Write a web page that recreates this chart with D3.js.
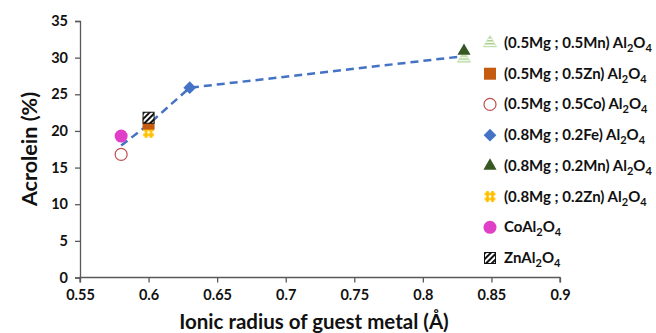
<!DOCTYPE html>
<html>
<head>
<meta charset="utf-8">
<script src="https://cdn.jsdelivr.net/npm/d3@7/dist/d3.min.js"></script>
<style>
  body { margin: 0; background: #fff; }
  text { font-family: Lato, "Open Sans", sans-serif; font-weight: bold; }
</style>
</head>
<body>
<div id="chart"></div>
<script>
// data
const xTicks = [0.55, 0.6, 0.65, 0.7, 0.75, 0.8, 0.85, 0.9]
const yTicks = [0, 5, 10, 15, 20, 25, 30, 35]

// [ionic radius, acrolein %]
const mg05mn05 = [0.83, 29.9]
const mg05zn05 = [0.60, 21.0]
const mg05co05 = [0.58, 16.8]
const mg08fe02 = [0.63, 25.9]
const mg08mn02 = [0.83, 30.9]
const mg08zn02 = [0.60, 19.8]
const coAl = [0.58, 19.3]
const znAl = [0.60, 21.8]

// dashed trend through the averages
const trendX = [0.58, 0.60, 0.63, 0.83]
const trendY = [18.0, 20.9, 25.9, 30.2]

const series = [
  { pre: '(0.5Mg ; 0.5Mn) Al', pt: mg05mn05, shape: 'triStripe' },
  { pre: '(0.5Mg ; 0.5Zn) Al', pt: mg05zn05, shape: 'square' },
  { pre: '(0.5Mg ; 0.5Co) Al', pt: mg05co05, shape: 'openCircle' },
  { pre: '(0.8Mg ; 0.2Fe) Al', pt: mg08fe02, shape: 'diamond' },
  { pre: '(0.8Mg ; 0.2Mn) Al', pt: mg08mn02, shape: 'triangle' },
  { pre: '(0.8Mg ; 0.2Zn) Al', pt: mg08zn02, shape: 'yellowSq' },
  { pre: 'CoAl', pt: coAl, shape: 'circle' },
  { pre: 'ZnAl', pt: znAl, shape: 'hatch' }
]

const width = 656, height = 333
const svg = d3.select('#chart').append('svg')
  .attr('width', width).attr('height', height)

const defs = svg.append('defs')
// diagonal black hatch
const hp = defs.append('pattern').attr('id', 'hatch')
  .attr('patternUnits', 'userSpaceOnUse').attr('width', 4).attr('height', 4)
  .attr('patternTransform', 'rotate(45)')
hp.append('rect').attr('width', 4).attr('height', 4).attr('fill', '#fff')
hp.append('rect').attr('width', 2).attr('height', 4).attr('fill', '#111')
// light green horizontal stripes
const tp = defs.append('pattern').attr('id', 'tstripe')
  .attr('patternUnits', 'userSpaceOnUse').attr('width', 4).attr('height', 3)
tp.append('rect').attr('width', 4).attr('height', 3).attr('fill', '#fff')
tp.append('rect').attr('width', 4).attr('height', 1.5).attr('fill', '#a9d18e')
// yellow dotted pattern
const yp = defs.append('pattern').attr('id', 'ydots')
  .attr('patternUnits', 'userSpaceOnUse').attr('width', 5).attr('height', 5)
yp.append('rect').attr('width', 5).attr('height', 5).attr('fill', '#ffc000')
;[[0, 0], [5, 5], [5, 0], [0, 5]].forEach(c => {
  yp.append('circle').attr('cx', c[0]).attr('cy', c[1]).attr('r', 1.4).attr('fill', '#fff')
})

const x = d3.scaleLinear().domain([0.55, 0.9]).range([80, 560])
const y = d3.scaleLinear().domain([0, 35]).range([277.5, 21])

// axes
const xAxis = svg.append('g')
  .attr('transform', `translate(0,${y(0)})`)
  .call(d3.axisBottom(x).tickValues(xTicks).tickSize(5).tickPadding(7)
    .tickFormat(d => d3.format('')(+d.toFixed(2))))
const yAxis = svg.append('g')
  .attr('transform', `translate(${x(0.55)},0)`)
  .call(d3.axisLeft(y).tickValues(yTicks).tickSize(5).tickPadding(7))

;[xAxis, yAxis].forEach(a => {
  a.select('.domain').attr('stroke', '#595959').attr('stroke-width', 1.3)
  a.selectAll('.tick line').attr('stroke', '#595959').attr('stroke-width', 1.3)
  a.selectAll('.tick text').attr('fill', '#111').style('font-size', '14.5px')
})
xAxis.select('.domain').attr('d', `M${x(0.55)},5V0H${x(0.9)}V5`)

// axis titles
svg.append('text')
  .attr('x', 314).attr('y', 329)
  .attr('text-anchor', 'middle')
  .style('font-size', '20.5px').attr('fill', '#111')
  .text('Ionic radius of guest metal (Å)')

svg.append('text')
  .attr('transform', 'translate(37,149) rotate(-90)')
  .attr('text-anchor', 'middle')
  .style('font-size', '21.5px').attr('fill', '#111')
  .text('Acrolein (%)')

// trend line
const trend = trendX.map((v, i) => [v, trendY[i]])
svg.append('path')
  .datum(trend)
  .attr('d', d3.line().x(d => x(d[0])).y(d => y(d[1])))
  .attr('fill', 'none')
  .attr('stroke', '#4472c4')
  .attr('stroke-width', 2.5)
  .attr('stroke-dasharray', '8,5')

function drawMarker(g, shape) {
  if (shape === 'triStripe') {
    g.append('path').attr('d', d3.symbol(d3.symbolTriangle, 75)())
      .attr('fill', 'url(#tstripe)').attr('stroke', '#c5e0b4').attr('stroke-width', 0.8)
  } else if (shape === 'triangle') {
    g.append('path').attr('d', d3.symbol(d3.symbolTriangle, 75)())
      .attr('fill', '#385723')
  } else if (shape === 'square') {
    g.append('rect').attr('x', -6).attr('y', -6).attr('width', 12).attr('height', 12)
      .attr('fill', '#c55a11')
  } else if (shape === 'openCircle') {
    g.append('circle').attr('r', 6).attr('fill', '#fff')
      .attr('stroke', '#c0504d').attr('stroke-width', 1.2)
  } else if (shape === 'diamond') {
    g.append('path').attr('d', d3.symbol(d3.symbolSquare, 80)())
      .attr('transform', 'rotate(45)').attr('fill', '#4472c4')
  } else if (shape === 'yellowSq') {
    g.append('rect').attr('x', -5.5).attr('y', -5.5).attr('width', 11).attr('height', 11)
      .attr('fill', 'url(#ydots)')
  } else if (shape === 'circle') {
    g.append('circle').attr('r', 6.5).attr('fill', '#e040c8')
  } else if (shape === 'hatch') {
    g.append('rect').attr('x', -5.5).attr('y', -5.5).attr('width', 11).attr('height', 11)
      .attr('fill', 'url(#hatch)').attr('stroke', '#111').attr('stroke-width', 1)
  }
}

// points
const drawOrder = [2, 6, 5, 1, 7, 3, 0, 4]
drawOrder.forEach(i => {
  const s = series[i]
  const g = svg.append('g')
    .attr('transform', `translate(${x(s.pt[0])},${y(s.pt[1])})`)
  drawMarker(g, s.shape)
})

// legend
const legY = d3.scaleLinear().domain([0, 7]).range([43, 258])
series.forEach((s, i) => {
  const g = svg.append('g').attr('transform', `translate(490,${legY(i)})`)
  drawMarker(g, s.shape)
  const t = g.append('text').attr('x', 14).attr('y', 5)
    .style('font-size', '15px').attr('fill', '#111')
  t.append('tspan').text(s.pre)
  t.append('tspan').attr('dy', 4).style('font-size', '11px').text('2')
  t.append('tspan').attr('dy', -4).text('O')
  t.append('tspan').attr('dy', 4).style('font-size', '11px').text('4')
})
</script>
</body>
</html>
